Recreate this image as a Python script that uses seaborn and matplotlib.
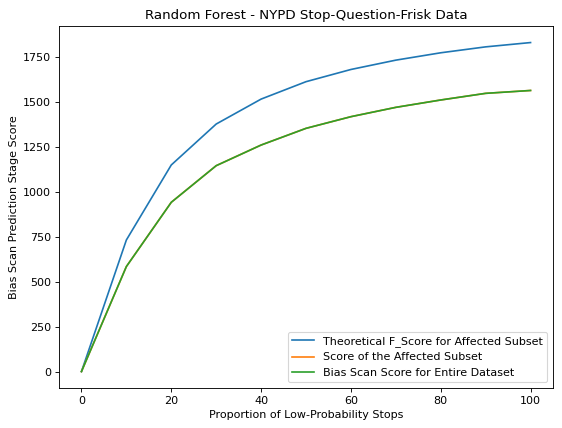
import numpy as np
import pandas as pd
import seaborn as sns
from matplotlib import pyplot as plt

# proportion of low-probability stops (x axis)
proportion = [0, 10, 20, 30, 40, 50, 60, 70, 80, 90, 100]
# scores
theoretical = [0, 733, 1151, 1379, 1518, 1615, 1683, 1735, 1776, 1809, 1833]
affected = [0, 585, 943, 1147, 1262, 1355, 1420, 1472, 1513, 1550, 1566]
entire = [0, 585, 943, 1147, 1262, 1355, 1420, 1472, 1513, 1550, 1566]

fig, ax = plt.subplots(figsize=(562 / 80, 428 / 80), dpi=80)
sns.lineplot(x=proportion, y=theoretical, ax=ax, color="C0", label="Theoretical F_Score for Affected Subset")
sns.lineplot(x=proportion, y=affected, ax=ax, color="C1", label="Score of the Affected Subset")
sns.lineplot(x=proportion, y=entire, ax=ax, color="C2", label="Bias Scan Score for Entire Dataset")

ax.set_title("Random Forest - NYPD Stop-Question-Frisk Data")
ax.set_xlabel("Proportion of Low-Probability Stops")
ax.set_ylabel("Bias Scan Prediction Stage Score")
ax.legend(loc="lower right")
fig.subplots_adjust(left=0.105, right=0.984, top=0.939, bottom=0.0935)
plt.savefig("out.png", dpi=80)
